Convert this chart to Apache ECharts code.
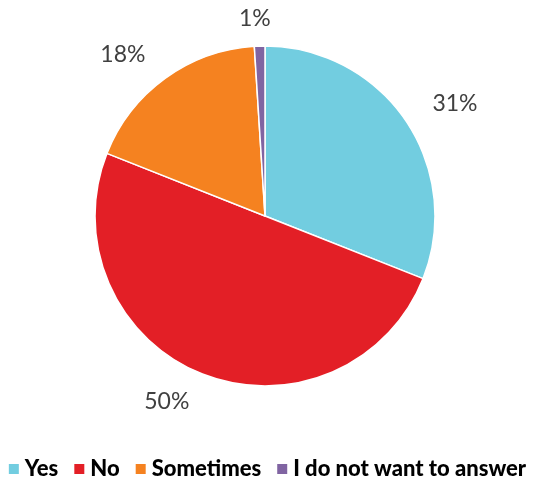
<!DOCTYPE html>
<html>
<head>
<meta charset="utf-8">
<script src="https://cdn.jsdelivr.net/npm/echarts@6/dist/echarts.min.js"></script>
<style>
  html, body { margin: 0; padding: 0; background: #fff; }
  #chart { width: 533px; height: 478px; }
</style>
</head>
<body>
<div id="chart"></div>
<script>
// Survey answers and their shares (percent)
const categories = ['Yes', 'No', 'Sometimes', 'I do not want to answer'];
const shares = [31, 50, 18, 1];
const sliceColors = ['#72CDE0', '#E31F26', '#F58220', '#8064A2'];

const chart = echarts.init(document.getElementById('chart'), null, { renderer: 'canvas' });

chart.setOption({
  animation: false,
  color: sliceColors,
  legend: {
    data: categories,
    top: 453,
    left: 'center',
    icon: 'rect',
    itemWidth: 12,
    itemHeight: 12,
    itemGap: 14,
    textStyle: {
      fontFamily: 'Lato',
      fontWeight: 900,
      fontSize: 22,
      color: '#000'
    }
  },
  series: [{
    type: 'pie',
    center: [265, 216],
    radius: 170,
    startAngle: 90,
    clockwise: true,
    itemStyle: { borderColor: '#fff', borderWidth: 1.5 },
    label: {
      show: true,
      position: 'outside',
      formatter: '{c}%',
      fontFamily: 'Lato',
      fontSize: 23,
      color: '#404040',
      distanceToLabelLine: 2
    },
    labelLine: { show: false, length: 30, length2: 0 },
    labelLayout: function (params) {
      // centre the label of the thin top slice over it
      if (params.dataIndex === 3) {
        return { dx: 14, dy: 2 };
      }
      return {};
    },
    emphasis: { disabled: true },
    data: categories.map((name, i) => ({ name: name, value: shares[i] }))
  }]
});
</script>
</body>
</html>
